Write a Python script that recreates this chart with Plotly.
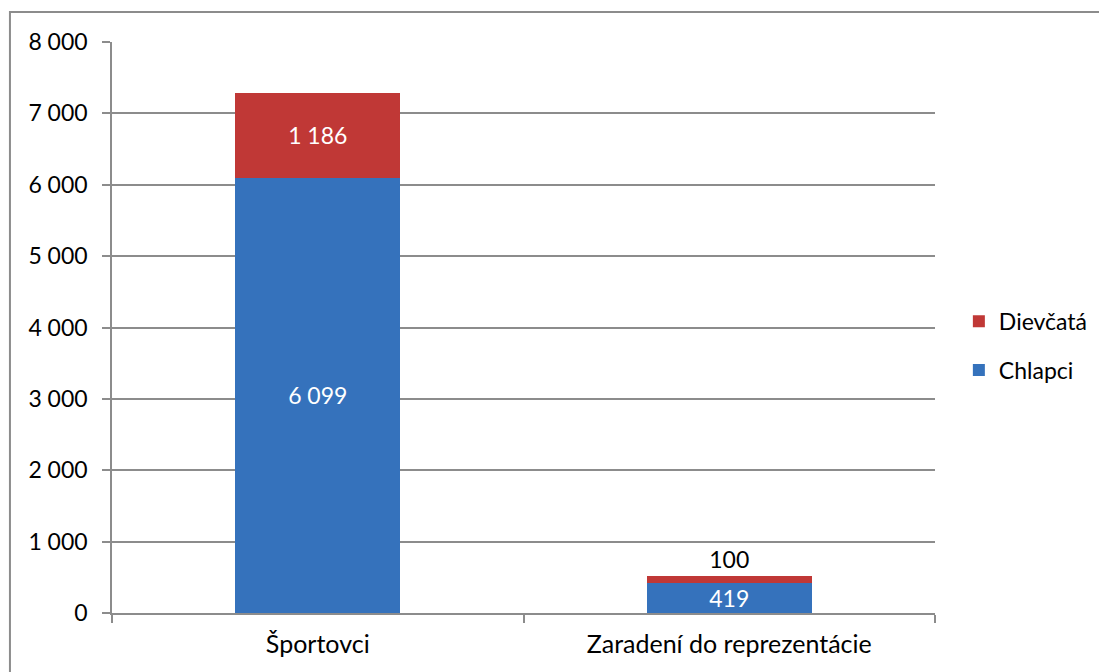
import plotly.graph_objects as go

categories = ["Športovci", "Zaradení do reprezentácie"]
chlapci = [6099, 419]
dievcata = [1186, 100]
series_names = ["Chlapci", "Dievčatá"]

FONT = "Lato, 'Open Sans', sans-serif"
GRID = "#8C8C8C"


def fmt(v):
    return f"{v:,}".replace(",", " ")


fig = go.Figure()
fig.add_trace(go.Bar(
    x=categories, y=chlapci, name=series_names[0],
    marker=dict(color="#3572BC", line=dict(width=0)),
    text=[fmt(v) for v in chlapci],
    textposition="inside", insidetextanchor="middle",
    constraintext="none", textangle=0,
    textfont=dict(color="white", size=23, family=FONT),
    legendgroup="a", legendrank=2,
))
fig.add_trace(go.Bar(
    x=categories, y=dievcata, name=series_names[1],
    marker=dict(color="#C03836", line=dict(width=0)),
    text=[fmt(v) for v in dievcata],
    textposition=["inside", "outside"], insidetextanchor="middle",
    constraintext="none", textangle=0,
    textfont=dict(color=["white", "black"], size=23, family=FONT),
    cliponaxis=False,
    legendgroup="b", legendrank=1,
))

fig.update_layout(
    width=1107, height=672,
    barmode="stack", bargap=0.6,
    separators=", ",
    paper_bgcolor="white", plot_bgcolor="white",
    font=dict(family=FONT, size=23, color="black"),
    margin=dict(l=104, r=180, t=34, b=67),
    legend=dict(
        x=1.029, y=0.468, xanchor="left", yanchor="middle",
        traceorder="grouped", tracegroupgap=16,
        font=dict(size=23, family=FONT),
        itemwidth=30,
    ),
    showlegend=True,
)
fig.update_yaxes(
    range=[0, 8000], dtick=1000, tickformat=",d",
    showgrid=True, gridcolor=GRID, gridwidth=1.5,
    showline=True, linecolor=GRID, linewidth=1.5,
    ticks="outside", ticklen=8, tickcolor=GRID, tickwidth=1.5,
    ticklabelstandoff=10, zeroline=False,
    tickfont=dict(size=23),
)
fig.update_xaxes(
    showline=True, linecolor=GRID, linewidth=1.5,
    ticks="outside", ticklen=8, tickcolor=GRID, tickwidth=1.5,
    tickson="boundaries", ticklabelstandoff=8,
    tickfont=dict(size=25),
)
fig.add_shape(type="rect", xref="paper", yref="paper",
              x0=-0.124, x1=1.25, y0=-0.15, y1=1.0525,
              line=dict(color=GRID, width=2), fillcolor="rgba(0,0,0,0)", layer="below")

fig.write_html("out.html")
